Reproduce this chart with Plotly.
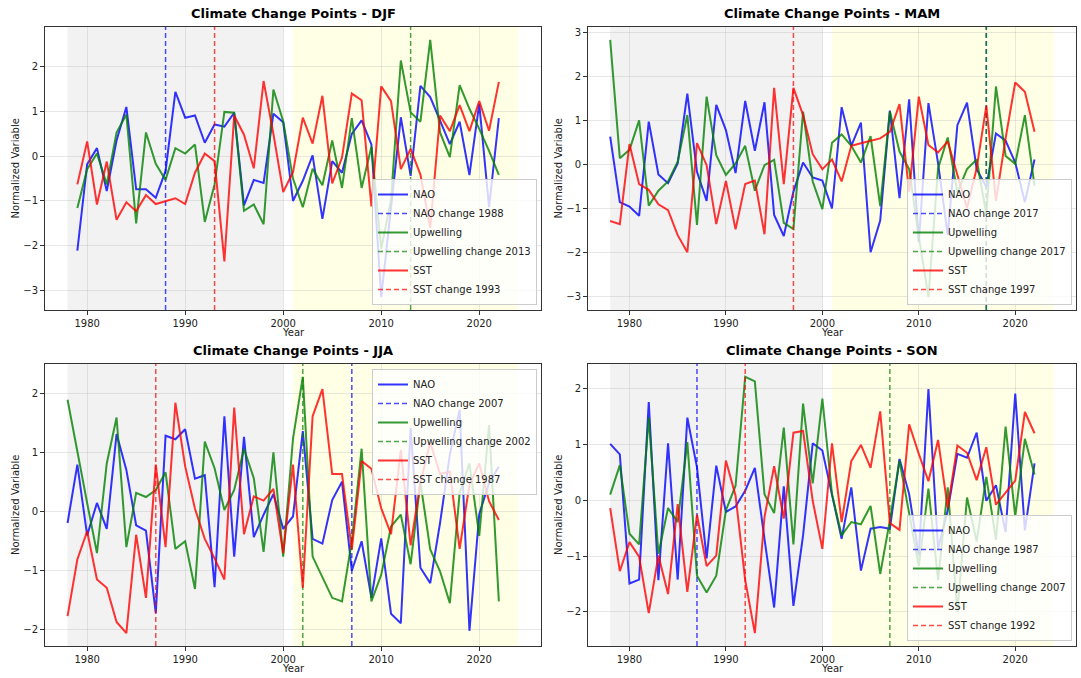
import plotly.graph_objects as go

years = list(range(1978, 2023))
years_djf = list(range(1979, 2023))

djf_nao = [-2.11, -0.18, 0.18, -0.78, 0.35, 1.10, -0.74, -0.74, -0.93, -0.33,
           1.44, 0.86, 0.91, 0.30, 0.71, 0.66, 0.97, -1.10, -0.53, -0.60,
           0.95, 0.76, -1.00, -0.55, 0.02, -1.40, -0.11, -0.37, 0.50, 0.80,
           0.26, -3.15, -1.15, 0.87, -0.44, 1.57, 1.32, 0.80, 0.27, 0.77,
           -0.42, 1.17, -1.14, 0.85]
djf_upw = [-1.16, -0.29, 0.06, -0.63, 0.53, 0.93, -1.50, 0.53, -0.17, -0.53,
           0.18, 0.06, 0.26, -1.47, -0.63, 0.99, 0.97, -1.22, -1.08, -1.52,
           1.49, 0.78, -0.50, -1.14, -0.28, -0.65, 0.35, -0.71, 0.85, -0.71,
           0.21, -2.07, -0.97, 2.14, 0.98, 0.77, 2.60, 0.53, -0.02, 1.59,
           1.06, 0.61, 0.12, -0.42]
djf_sst = [-0.63, 0.33, -1.08, -0.12, -1.42, -1.03, -1.23, -0.87, -1.07, -1.01,
           -0.94, -1.07, -0.37, 0.06, -0.11, -2.35, 0.91, 0.48, -0.27, 1.68,
           0.50, -0.80, -0.36, 0.86, 0.28, 1.35, -0.61, -0.03, 1.40, 1.25,
           -1.12, 1.56, 1.23, -0.29, 0.16, -0.41, -1.60, 0.91, 0.56, 1.14,
           0.56, 1.23, 0.57, 1.66]

mam_nao = [0.63, -0.86, -0.96, -1.17, 0.97, -0.23, -0.43, 0.02, 1.61, -0.17,
           -0.83, 1.35, 0.78, -0.20, 1.44, 0.31, 1.41, -1.15, -1.63, -0.62,
           0.04, -0.30, -0.37, -1.00, 1.30, 0.42, 0.95, -2.00, -1.28, 1.22,
           -0.77, 1.48, -1.77, 1.39, 0.02, -1.61, 0.89, 1.40, -0.11, -0.51,
           0.70, 0.54, 0.04, -0.86, 0.11]
mam_upw = [2.83, 0.14, 0.33, 1.00, -0.94, -0.60, -0.39, 0.06, 1.12, -1.38,
           1.54, 0.21, -0.24, 0.02, 0.42, -0.60, -0.02, 0.10, -1.33, -1.47,
           1.20, -0.39, -1.02, 0.49, 0.68, 0.42, 0.04, 0.64, -0.95, 1.20,
           0.29, -0.11, -1.64, -3.02, -0.09, 0.61, -0.64, -0.11, 0.11, -1.13,
           1.77, 0.19, 0.01, 1.12, -0.49]
mam_sst = [-1.29, -1.36, 0.46, -0.45, -0.58, -0.91, -1.04, -1.61, -2.00, 0.48,
           -0.02, -1.36, -0.38, -1.48, -0.45, -0.37, -1.59, 1.74, -0.45, 1.74,
           1.12, 0.23, -0.11, 0.11, -0.39, 0.42, 0.48, 0.53, 0.59, 0.74,
           1.37, -0.62, 1.54, 0.44, 0.27, 0.52, -0.24, -1.00, -0.09, 1.33,
           -0.83, 0.59, 1.86, 1.65, 0.74]

jja_nao = [-0.19, 0.80, -0.40, 0.15, -0.29, 1.32, 0.71, -0.23, -0.32, -1.72,
           1.29, 1.23, 1.40, 0.56, 0.62, -1.28, 1.62, -0.76, 1.27, -0.43,
           -0.05, 0.30, -0.29, -0.08, 1.37, -0.46, -0.54, 0.20, 0.51, -1.00,
           -0.50, -1.46, -0.45, -1.73, -1.89, 1.42, -0.95, -1.21, -0.19, 0.97,
           1.73, -2.02, -0.04, 0.49, 0.77]
jja_upw = [1.90, 1.00, 0.15, -0.70, 0.82, 1.60, -0.60, 0.32, 0.25, 0.37,
           0.67, -0.63, -0.50, -1.31, 1.19, 0.74, 0.03, 0.37, 1.07, 0.57,
           -0.68, 1.01, -0.76, 1.24, 2.29, -0.76, -1.10, -1.46, -1.52, -0.50,
           1.07, -1.52, -1.07, -0.25, -0.05, -0.89, 0.50, -0.64, -1.01, -1.55,
           0.32, 0.82, -0.41, 1.47, -1.52]
jja_sst = [-1.77, -0.81, -0.33, -1.15, -1.29, -1.87, -2.06, -0.39, -1.46, 0.80,
           -0.60, 1.85, 0.77, 0.05, -0.46, -0.79, -1.15, 1.77, -0.38, 0.26,
           0.19, 0.39, -0.70, 0.80, -1.29, 1.62, 2.08, 0.64, 0.64, -0.64,
           0.86, 0.73, 0.06, -0.38, 1.05, -0.57, 0.49, 1.18, 0.64, 0.68,
           -0.63, 0.46, 0.82, 0.18, -0.14]

son_nao = [1.01, 0.82, -1.49, -1.42, 1.76, -1.43, 1.02, -1.42, 1.48, 0.59,
           -1.04, 0.62, -0.21, -0.11, 0.17, 0.58, -0.69, -1.92, 0.25, -1.89,
           -0.63, 1.02, 0.89, 0.11, -0.69, 0.23, -1.26, -0.51, -0.48, -0.51,
           0.74, 0.11, -0.99, 1.99, -0.87, -0.18, 0.83, 0.76, 1.21, -0.01,
           0.27, -0.57, 1.91, -0.54, 0.66]
son_upw = [0.10, 0.63, -0.60, -0.79, 1.48, -0.96, -0.14, -0.39, 1.04, -1.35,
           -1.65, -1.35, -0.18, 0.26, 2.21, 2.13, 0.11, -0.23, 1.30, -0.79,
           1.73, 0.30, 1.82, 0.11, -0.63, -0.39, -0.43, -0.10, -1.32, -0.36,
           0.71, -0.21, -1.18, 0.21, -1.43, 0.23, -2.00, 0.05, -0.74, 0.42,
           -0.71, 1.32, -0.29, 1.10, 0.46]
son_sst = [-0.14, -1.27, -0.75, -1.01, -2.02, -0.99, -1.68, -0.07, -1.64, -0.26,
           -1.18, -0.99, 0.71, 0.08, -1.43, -2.38, -0.30, 0.61, -0.33, 1.21,
           1.24, -0.01, -0.87, 1.02, -0.39, 0.70, 0.99, 0.58, 1.59, -0.41,
           -0.53, 1.36, 0.83, 0.34, 1.08, -0.14, 0.98, 0.85, 0.36, 0.95,
           -0.08, 0.14, 0.35, 1.58, 1.20]

seasons = ["DJF", "MAM", "JJA", "SON"]
season_years = [years_djf, years, years, years]
nao = [djf_nao, mam_nao, jja_nao, son_nao]
upw = [djf_upw, mam_upw, jja_upw, son_upw]
sst = [djf_sst, mam_sst, jja_sst, son_sst]
nao_cp = [1988, 2017, 2007, 1987]
upw_cp = [2013, 2017, 2002, 2007]
sst_cp = [1993, 1997, 1987, 1992]

W, H = 1081, 678
FONT = "DejaVu Sans"

# panel boxes in pixels (left, right, top, bottom)
boxes = [(45, 541, 27, 310), (588, 1076, 27, 310),
         (45, 541, 364, 646), (588, 1076, 364, 646)]
legend_pos = [("right", "bottom"), ("right", "bottom"),
              ("right", "top"), ("right", "bottom")]

fig = go.Figure()
layout = dict(width=W, height=H, margin=dict(l=0, r=0, t=0, b=0),
              paper_bgcolor="white", plot_bgcolor="white",
              font=dict(family=FONT, size=10, color="#222"),
              shapes=[], annotations=[])

c_nao = "rgba(0,0,255,0.8)"
c_upw = "rgba(0,128,0,0.8)"
c_sst = "rgba(255,0,0,0.8)"
c_nao_d = "rgba(0,0,255,0.7)"
c_upw_d = "rgba(0,128,0,0.7)"
c_sst_d = "rgba(255,0,0,0.7)"

for i, s in enumerate(seasons):
    k = "" if i == 0 else str(i + 1)
    xa, ya = "x" + k, "y" + k
    leg = "legend" + k
    l, r, t, b = boxes[i]
    allv = nao[i] + upw[i] + sst[i]
    mn, mx = min(allv), max(allv)
    pad = 0.05 * (mx - mn)
    y0, y1 = mn - pad, mx + pad
    yrs = season_years[i]

    def line(y, name, color):
        fig.add_trace(go.Scatter(x=yrs, y=y, mode="lines", name=name,
                                 line=dict(color=color, width=2),
                                 xaxis=xa, yaxis=ya, legend=leg))

    def vline(yr, name, color):
        fig.add_trace(go.Scatter(x=[yr, yr], y=[y0, y1], mode="lines", name=name,
                                 line=dict(color=color, width=1.5, dash="5px,3px"),
                                 xaxis=xa, yaxis=ya, legend=leg))

    line(nao[i], "NAO", c_nao)
    vline(nao_cp[i], f"NAO change {nao_cp[i]}", c_nao_d)
    line(upw[i], "Upwelling", c_upw)
    vline(upw_cp[i], f"Upwelling change {upw_cp[i]}", c_upw_d)
    line(sst[i], "SST", c_sst)
    vline(sst_cp[i], f"SST change {sst_cp[i]}", c_sst_d)

    axcommon = dict(showline=True, mirror=True, linecolor="#333", linewidth=1,
                    ticks="outside", ticklen=4, tickcolor="#333", showgrid=True,
                    gridcolor="rgba(176,176,176,0.3)", gridwidth=1, zeroline=False,
                    tickfont=dict(size=10, color="#222"), automargin=False)
    layout["xaxis" + k] = dict(domain=[l / W, r / W], range=[1975.7, 2026.3],
                               tickvals=[1980, 1990, 2000, 2010, 2020],
                               anchor=ya, **axcommon)
    layout["yaxis" + k] = dict(domain=[1 - b / H, 1 - t / H], range=[y0, y1],
                               dtick=1, anchor=xa, **axcommon)

    # shaded periods
    layout["shapes"].append(dict(type="rect", xref=xa, yref=ya + " domain",
                                 x0=1978, x1=2000, y0=0, y1=1, layer="below",
                                 fillcolor="rgba(128,128,128,0.1)", line=dict(width=0)))
    layout["shapes"].append(dict(type="rect", xref=xa, yref=ya + " domain",
                                 x0=2001, x1=2024, y0=0, y1=1, layer="below",
                                 fillcolor="rgba(255,255,0,0.1)", line=dict(width=0)))

    # title & axis labels
    layout["annotations"].append(dict(text=f"<b>Climate Change Points - {s}</b>",
                                      x=(l + r) / 2 / W, y=1 - (t - 4) / H, xref="paper",
                                      yref="paper", xanchor="center", yanchor="bottom",
                                      showarrow=False, font=dict(size=13, color="black")))
    layout["annotations"].append(dict(text="Year", x=(l + r) / 2 / W, y=1 - (b + 22) / H,
                                      xref="paper", yref="paper", xanchor="center",
                                      yanchor="middle", showarrow=False,
                                      font=dict(size=10, color="#222")))
    layout["annotations"].append(dict(text="Normalized Variable", x=(l - 30) / W,
                                      y=1 - (t + b) / 2 / H, xref="paper", yref="paper",
                                      xanchor="center", yanchor="middle", textangle=-90,
                                      showarrow=False, font=dict(size=10, color="#222")))

    xanc, yanc = legend_pos[i]
    ly = 1 - (b - 5) / H if yanc == "bottom" else 1 - (t + 5) / H
    layout[leg] = dict(x=(r - 4) / W, y=ly, xanchor=xanc, yanchor=yanc,
                       xref="paper", yref="paper",
                       bgcolor="rgba(255,255,255,0.8)", bordercolor="#cccccc",
                       borderwidth=1, font=dict(size=10, color="#222"),
                       tracegroupgap=0, itemwidth=30)

fig.update_layout(**layout)
fig.write_html("out.html")
